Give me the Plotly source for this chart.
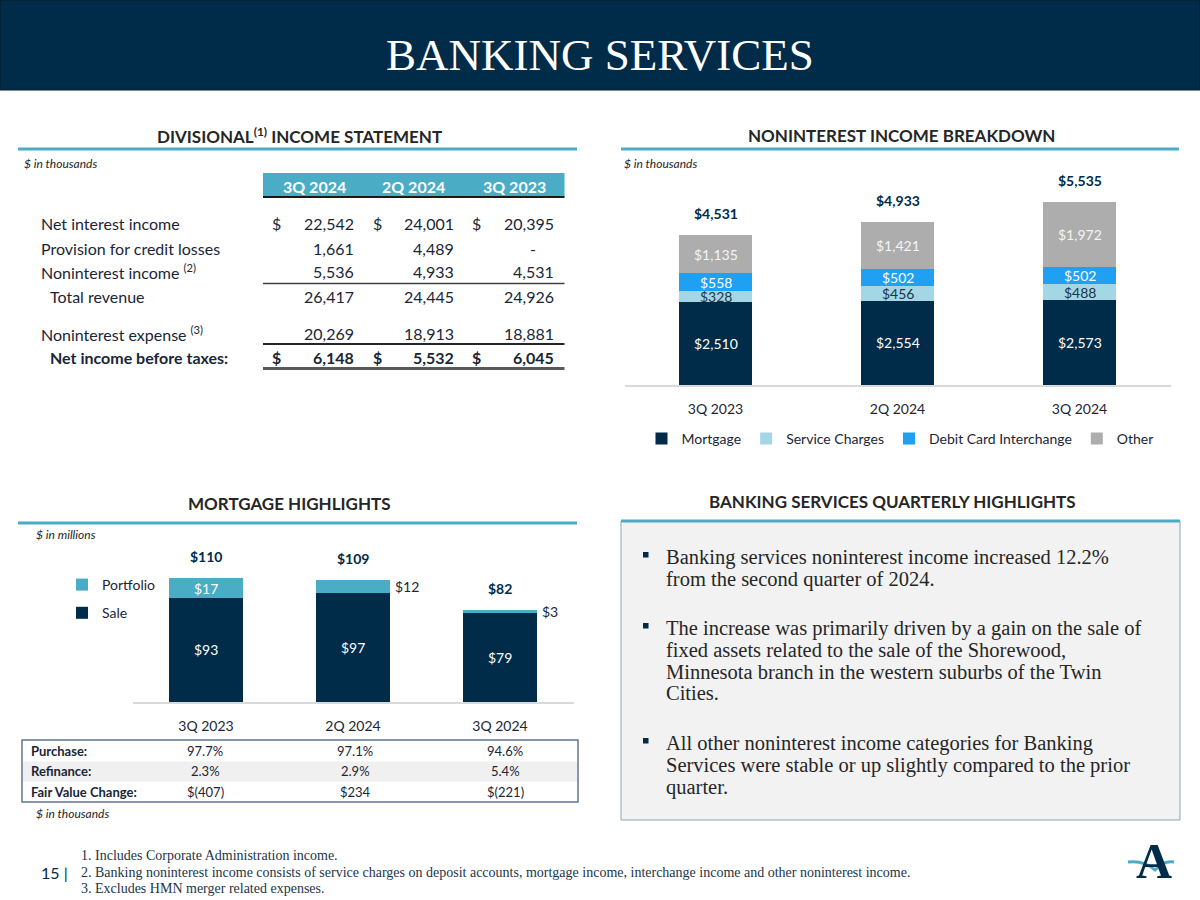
import plotly.graph_objects as go

W, H = 1200, 900
def X(px): return px / W
def Y(py): return 1 - py / H

NAVY = "#002b49"
TEAL = "#4bacc6"
TEXT = "#1a2636"
DARK = "#262626"
SANS = "Lato"
SERIF = "Liberation Serif"

# ---------------- data ----------------
quarters = ["3Q 2023", "2Q 2024", "3Q 2024"]
mortgage_inc = [2510, 2554, 2573]
service_charges = [328, 456, 488]
debit_card = [558, 502, 502]
other_inc = [1135, 1421, 1972]
nonint_totals = [4531, 4933, 5535]

mort_sale = [93, 97, 79]
mort_portfolio = [17, 12, 3]
mort_totals = [110, 109, 82]

purchase_pct = ["97.7%", "97.1%", "94.6%"]
refinance_pct = ["2.3%", "2.9%", "5.4%"]
fair_value = ["$(407)", "$234", "$(221)"]
mort_table_labels = ["Purchase:", "Refinance:", "Fair Value Change:"]

is_columns = ["3Q 2024", "2Q 2024", "3Q 2023"]
is_labels = ["Net interest income", "Provision for credit losses", "Noninterest income <sup>(2)</sup>",
             "Total revenue", "Noninterest expense <sup>(3)</sup>", "<b>Net income before taxes:</b>"]
net_interest_income = [22542, 24001, 20395]
provision = [1661, 4489, None]
noninterest_income = [5536, 4933, 4531]
total_revenue = [26417, 24445, 24926]
noninterest_expense = [20269, 18913, 18881]
net_income_bt = [6148, 5532, 6045]

bullets = [
    ["Banking services noninterest income increased 12.2%", "from the second quarter of 2024."],
    ["The increase was primarily driven by a gain on the sale of", "fixed assets related to the sale of the Shorewood,",
     "Minnesota branch in the western suburbs of the Twin", "Cities."],
    ["All other noninterest income categories for Banking", "Services were stable or up slightly compared to the prior",
     "quarter."],
]
footnotes = ["1. Includes Corporate Administration income.",
             "2. Banking noninterest income consists of service charges on deposit accounts, mortgage income, interchange income and other noninterest income.",
             "3. Excludes HMN merger related expenses."]

fig = go.Figure()
ann = []
shapes = []

def text(x, y, s, size=14, color=TEXT, family=SANS, xanchor="center", yanchor="middle", **kw):
    ann.append(dict(x=X(x), y=Y(y), xref="paper", yref="paper", text=s, showarrow=False,
                    font=dict(family=family, size=size, color=color), xanchor=xanchor, yanchor=yanchor, **kw))

def line(x0, y0, x1, y1, color, width):
    shapes.append(dict(type="line", xref="paper", yref="paper", x0=X(x0), y0=Y(y0), x1=X(x1), y1=Y(y1),
                       line=dict(color=color, width=width)))

def rect(x0, y0, x1, y1, fill, lc=None, lw=0):
    shapes.append(dict(type="rect", xref="paper", yref="paper", x0=X(x0), y0=Y(y0), x1=X(x1), y1=Y(y1),
                       fillcolor=fill, line=dict(color=lc or fill, width=lw), layer="below"))

# ---------------- header ----------------
rect(0, 0, 1200, 90, NAVY, "#0b1a26", 1)
text(600, 55, "BANKING SERVICES", size=45, color="white", family=SERIF)

# ---------------- section titles ----------------
text(299, 135, "<b>DIVISIONAL<sup>(1)</sup> INCOME STATEMENT</b>", size=17, color=DARK)
line(18, 149, 577, 149, TEAL, 3)
text(22, 163, "<i>$ in thousands</i>", size=12, color=DARK, xanchor="left")

text(901, 135, "<b>NONINTEREST INCOME BREAKDOWN</b>", size=17, color=DARK)
line(621, 149, 1179, 149, TEAL, 3)
text(622, 163, "<i>$ in thousands</i>", size=12, color=DARK, xanchor="left")

text(289, 503, "<b>MORTGAGE HIGHLIGHTS</b>", size=17, color=DARK)
line(18, 523, 577, 523, TEAL, 3)
text(34, 534, "<i>$ in millions</i>", size=12, color=DARK, xanchor="left")

text(892, 501, "<b>BANKING SERVICES QUARTERLY HIGHLIGHTS</b>", size=17, color=DARK)

# ---------------- income statement table ----------------
rect(263, 173, 564.5, 197, TEAL)
line(263, 197, 564.5, 197, "#1a1a1a", 2)
col_centers = [314, 414, 514]
dollar_x = [276, 377, 476.5]
value_right = [356, 456, 556]
for c, lab in enumerate(is_columns):
    text(col_centers[c], 186, f"<b>{lab}</b>", size=16, color="white")

row_values = [net_interest_income, provision, noninterest_income, total_revenue, noninterest_expense, net_income_bt]
row_y = [223, 248, 272, 296, 333, 357]
row_x = [39, 39, 39, 48, 39, 48]
row_dollar = [True, False, False, False, False, True]
for r, (lab, vals) in enumerate(zip(is_labels, row_values)):
    text(row_x[r], row_y[r], lab, size=16, xanchor="left")
    bold = r == len(is_labels) - 1
    for c, v in enumerate(vals):
        s = f"{v:,}" if v is not None else "-"
        if bold:
            s = f"<b>{s}</b>"
        xr = value_right[c] if v is not None else value_right[c] - 18
        text(xr, row_y[r], s, size=16, xanchor="right")
        if row_dollar[r]:
            text(dollar_x[c], row_y[r], "<b>$</b>" if bold else "$", size=16)
line(263, 283.5, 564.5, 283.5, "#404040", 1.5)
line(263, 344, 564.5, 344, "#262626", 2)
line(263, 368.5, 564.5, 368.5, "#595959", 3)

# ---------------- chart 1: noninterest income breakdown ----------------
series1 = [("Mortgage", mortgage_inc, NAVY, "white"),
           ("Service Charges", service_charges, "#a3d7e6", "#1f3347"),
           ("Debit Card Interchange", debit_card, "#1fa0f2", "white"),
           ("Other", other_inc, "#adadad", "#f4f4f4")]
base = [0, 0, 0]
for name, vals, col, lcol in series1:
    fig.add_trace(go.Bar(x=quarters, y=vals, name=name, width=0.4,
                         marker=dict(color=col, line=dict(width=0)),
                         xaxis="x", yaxis="y", legend="legend", hoverinfo="skip"))
    for i, v in enumerate(vals):
        ann.append(dict(x=quarters[i], y=base[i] + v / 2, xref="x", yref="y", text=f"${v:,}",
                        showarrow=False, font=dict(family=SANS, size=14, color=lcol)))
        base[i] += v
for i, t in enumerate(nonint_totals):
    ann.append(dict(x=quarters[i], y=t, xref="x", yref="y", text=f"<b>${t:,}</b>", showarrow=False,
                    yanchor="bottom", yshift=11, font=dict(family=SANS, size=14, color=NAVY)))

# ---------------- chart 2: mortgage highlights ----------------
fig.add_trace(go.Bar(x=quarters, y=mort_sale, name="Sale", width=0.5, marker=dict(color=NAVY, line=dict(width=0)),
                     xaxis="x2", yaxis="y2", legend="legend2", legendgroup="sale", legendrank=2,
                     hoverinfo="skip"))
fig.add_trace(go.Bar(x=quarters, y=mort_portfolio, name="Portfolio", width=0.5,
                     marker=dict(color=TEAL, line=dict(width=0)),
                     xaxis="x2", yaxis="y2", legend="legend2", legendgroup="portfolio", legendrank=1,
                     hoverinfo="skip"))
for i in range(3):
    ann.append(dict(x=quarters[i], y=mort_sale[i] / 2, xref="x2", yref="y2", text=f"${mort_sale[i]}",
                    showarrow=False, font=dict(family=SANS, size=14, color="white")))
    p = mort_portfolio[i]
    if p >= 15:
        ann.append(dict(x=quarters[i], y=mort_sale[i] + p / 2, xref="x2", yref="y2", text=f"${p}",
                        showarrow=False, font=dict(family=SANS, size=14, color="white")))
    else:
        ann.append(dict(x=quarters[i], y=mort_sale[i] + p / 2, xref="x2", yref="y2", text=f"${p}",
                        showarrow=False, xanchor="left", xshift=40, font=dict(family=SANS, size=14, color=TEXT)))
    ann.append(dict(x=quarters[i], y=mort_totals[i], xref="x2", yref="y2", text=f"<b>${mort_totals[i]}</b>",
                    showarrow=False, yanchor="bottom", yshift=11, font=dict(family=SANS, size=14, color=NAVY)))

# mortgage table
rect(22, 740, 578, 802, "white", "#5f7490", 1.5)
rect(23, 761.5, 577, 781.5, "#f0f0f0")
tbl_x = [205, 355, 505]
tbl_y = [751, 771, 792]
for r, (lab, vals) in enumerate(zip(mort_table_labels, [purchase_pct, refinance_pct, fair_value])):
    text(29, tbl_y[r], f"<b>{lab}</b>", size=13, color=TEXT, xanchor="left")
    for c, v in enumerate(vals):
        text(tbl_x[c], tbl_y[r], v, size=13, color=TEXT)
text(34, 813, "<i>$ in thousands</i>", size=12, color=DARK, xanchor="left")

# ---------------- highlights box ----------------
rect(621, 521, 1180, 820, "#f2f2f2", "#8ea3b8", 1)
line(621, 521, 1180, 521, TEAL, 3)
line_y = [[557, 579], [628, 650, 672, 693], [743, 765, 787]]
for b, lines in enumerate(bullets):
    y0 = line_y[b][0]
    shapes.append(dict(type="rect", xref="paper", yref="paper", x0=X(643), x1=X(648.5), y0=Y(y0 - 5), y1=Y(y0 + 0.5),
                       fillcolor=NAVY, line=dict(width=0)))
    for k, ln in enumerate(lines):
        text(664, line_y[b][k], ln, size=20.5, color=DARK, family=SERIF, xanchor="left")

# ---------------- footer ----------------
text(55, 872, "15 |", size=16, color=NAVY)
for k, fn in enumerate(footnotes):
    text(79, [855, 872, 888][k], fn, size=14, color="#1d3549", family=SERIF, xanchor="left")
# logo
text(1154, 861, "<b>A</b>", size=50, color=NAVY, family=SERIF)
wave = "M {} {} Q {} {} {} {} Q {} {} {} {}".format(
    X(1128), Y(862), X(1144), Y(860), X(1155), Y(870), X(1164), Y(860), X(1174), Y(862))
shapes.append(dict(type="path", xref="paper", yref="paper", path=wave, line=dict(color="#4bacc6", width=3)))

legend_font = dict(family=SANS, size=14, color=TEXT)
fig.update_layout(
    width=W, height=H, margin=dict(l=0, r=0, t=0, b=0),
    paper_bgcolor="white", plot_bgcolor="rgba(0,0,0,0)",
    barmode="stack", showlegend=True,
    xaxis=dict(domain=[X(624.5), X(1170.5)], anchor="y", range=[-0.5, 2.5], showline=True, linecolor="#d9d9d9",
               linewidth=2, ticks="", tickfont=legend_font, ticklabelstandoff=10, showgrid=False, zeroline=False),
    yaxis=dict(domain=[Y(385), Y(187)], anchor="x", range=[0, 6000], visible=False),
    xaxis2=dict(domain=[X(132.5), X(573.5)], anchor="y2", range=[-0.5, 2.5], showline=True, linecolor="#d9d9d9",
                linewidth=2, ticks="", tickfont=legend_font, ticklabelstandoff=10, showgrid=False, zeroline=False),
    yaxis2=dict(domain=[Y(702), Y(556)], anchor="x2", range=[0, 130], visible=False),
    legend=dict(orientation="h", x=X(900), xanchor="center", y=Y(439), yanchor="middle", font=legend_font,
                traceorder="normal", bgcolor="rgba(0,0,0,0)"),
    legend2=dict(orientation="v", x=X(62), xanchor="left", y=Y(569), yanchor="top", font=legend_font,
                 traceorder="grouped", tracegroupgap=7, bgcolor="rgba(0,0,0,0)"),
    annotations=ann, shapes=shapes,
)
fig.write_html("out.html", config={"displayModeBar": False},
               post_script="document.body.style.margin='0';document.body.style.overflow='hidden';")
